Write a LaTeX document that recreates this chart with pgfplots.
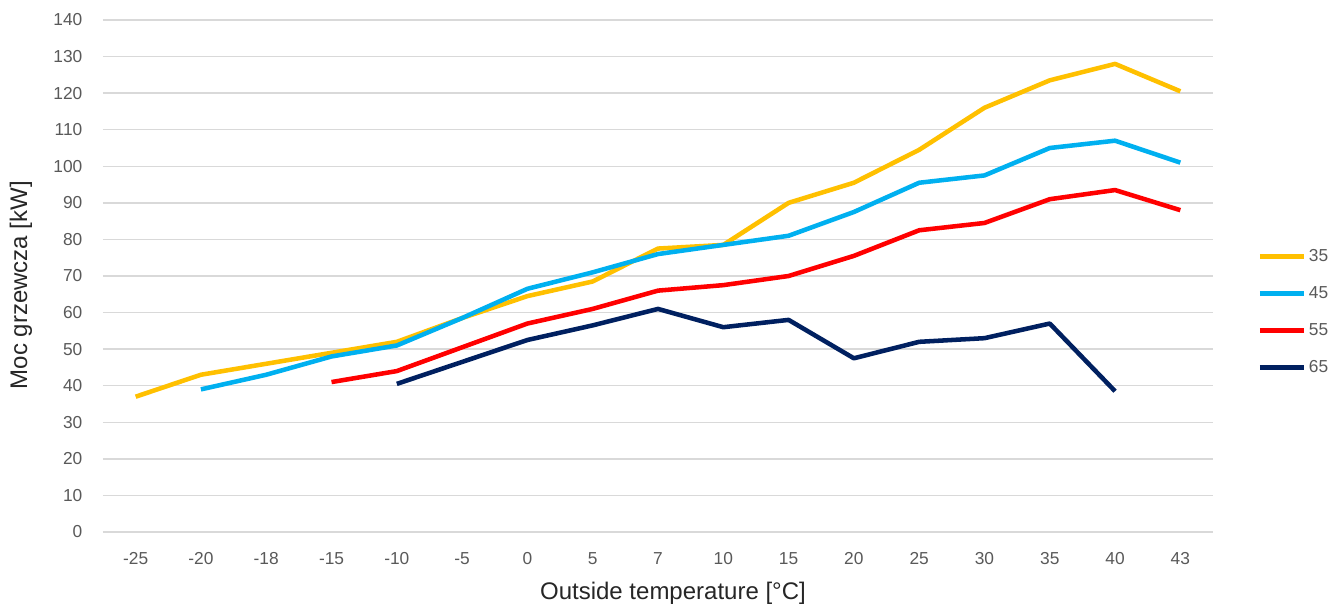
\documentclass[border=0pt]{standalone}
\usepackage{pgfplots}
\pgfplotsset{compat=1.18}
\usepackage{fontspec}
\setmainfont{Liberation Sans}

\definecolor{s35}{HTML}{FFC000}
\definecolor{s45}{HTML}{00B0F0}
\definecolor{s55}{HTML}{FF0000}
\definecolor{s65}{HTML}{002060}
\definecolor{gridgray}{HTML}{D9D9D9}
\definecolor{tickgray}{HTML}{595959}

\begin{document}
\begin{tikzpicture}
\begin{axis}[
    scale only axis,
    width=832.5pt, height=384pt,
    xmin=-0.5, xmax=16.5, ymin=0, ymax=140,
    xtick={0,...,16},
    xticklabels={-25,-20,-18,-15,-10,-5,0,5,7,10,15,20,25,30,35,40,43},
    ytick={0,10,...,140},
    ymajorgrids,
    major grid style={draw=gridgray, line width=1.1pt},
    axis line style={draw=none},
    major tick length=0pt,
    /pgf/number format/assume math mode=true,
    tick label style={font=\fontsize{13}{15}\selectfont, text=tickgray},
    xticklabel style={yshift=-12pt},
    yticklabel style={xshift=-12pt},
    xlabel={Outside temperature [°C]},
    ylabel={Moc grzewcza [kW]},
    label style={font=\fontsize{18}{21}\selectfont, text=black!85},
    xlabel style={at={(axis description cs:0.5135,0)}, anchor=center, yshift=-46pt},
    ylabel style={at={(axis description cs:-0.0739,0.482)}, anchor=center},
    legend style={draw=none, fill=none, at={(1.04,0.43)}, anchor=west,
        font=\fontsize{13}{15}\selectfont, text=tickgray, row sep=13.25pt,
        inner sep=0pt},
    legend cell align=left,
    legend image code/.code={\draw[#1] (0pt,0pt) -- (33pt,0pt);},
    every axis plot/.append style={line width=3.4pt, line join=round},
]
\addplot[s35] coordinates {
    (0,37) (1,43) (2,46) (3,49) (4,52) (5,58.5) (6,64.5) (7,68.5) (8,77.5)
    (9,78.5) (10,90) (11,95.5) (12,104.5) (13,116) (14,123.5) (15,128) (16,120.5)
};
\addlegendentry{35}
\addplot[s45] coordinates {
    (1,39) (2,43) (3,48) (4,51) (5,58.5) (6,66.5) (7,71) (8,76)
    (9,78.5) (10,81) (11,87.5) (12,95.5) (13,97.5) (14,105) (15,107) (16,101)
};
\addlegendentry{45}
\addplot[s55] coordinates {
    (3,41) (4,44) (5,50.5) (6,57) (7,61) (8,66)
    (9,67.5) (10,70) (11,75.5) (12,82.5) (13,84.5) (14,91) (15,93.5) (16,88)
};
\addlegendentry{55}
\addplot[s65] coordinates {
    (4,40.5) (5,46.5) (6,52.5) (7,56.5) (8,61)
    (9,56) (10,58) (11,47.5) (12,52) (13,53) (14,57) (15,38.5)
};
\addlegendentry{65}
\end{axis}
\pgfresetboundingbox
\path[use as bounding box] (-77.25pt,-56.25pt) rectangle (927pt,399pt);
\end{tikzpicture}
\end{document}
